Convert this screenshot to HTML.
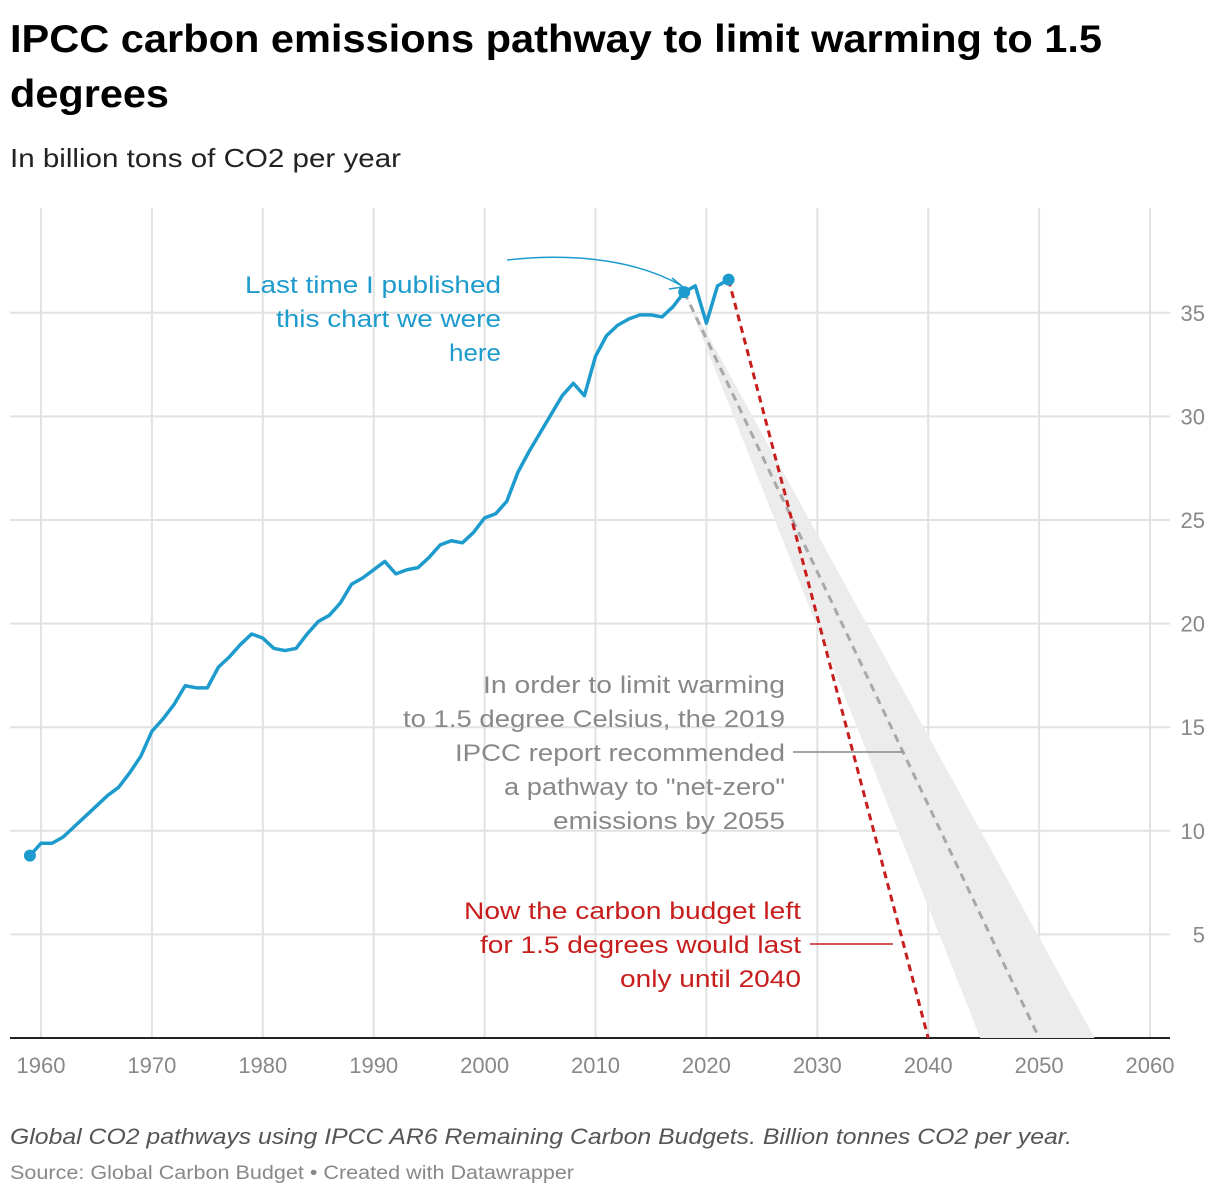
<!DOCTYPE html>
<html><head><meta charset="utf-8"><style>
body{margin:0;background:#fff;width:1220px;height:1196px;overflow:hidden;font-family:"Liberation Sans",Arial,sans-serif}
</style></head><body>
<svg width="1220" height="1196" xmlns="http://www.w3.org/2000/svg">
<text x="10" y="52" font-size="39" font-weight="bold" fill="#000" textLength="1092" lengthAdjust="spacingAndGlyphs">IPCC carbon emissions pathway to limit warming to 1.5</text>
<text x="10" y="107" font-size="39" font-weight="bold" fill="#000" textLength="159" lengthAdjust="spacingAndGlyphs">degrees</text>
<text x="10" y="167" font-size="26" fill="#222" textLength="391" lengthAdjust="spacingAndGlyphs">In billion tons of CO2 per year</text>
<g id="grid"></g>
<g id="marks"></g>
<g id="ann"></g>
<text x="10" y="1144" font-size="22" font-style="italic" fill="#555" textLength="1062" lengthAdjust="spacingAndGlyphs">Global CO2 pathways using IPCC AR6 Remaining Carbon Budgets. Billion tonnes CO2 per year.</text>
<text x="10" y="1179" font-size="19" fill="#888" textLength="564" lengthAdjust="spacingAndGlyphs">Source: Global Carbon Budget • Created with Datawrapper</text>
</svg>
<script>
const years=[1959,1960,1961,1962,1963,1964,1965,1966,1967,1968,1969,1970,1971,1972,1973,1974,1975,1976,1977,1978,1979,1980,1981,1982,1983,1984,1985,1986,1987,1988,1989,1990,1991,1992,1993,1994,1995,1996,1997,1998,1999,2000,2001,2002,2003,2004,2005,2006,2007,2008,2009,2010,2011,2012,2013,2014,2015,2016,2017,2018,2019,2020,2021,2022];
const emissions=[8.8,9.4,9.4,9.7,10.2,10.7,11.2,11.7,12.1,12.8,13.6,14.8,15.4,16.1,17.0,16.9,16.9,17.9,18.4,19.0,19.5,19.3,18.8,18.7,18.8,19.5,20.1,20.4,21.0,21.9,22.2,22.6,23.0,22.4,22.6,22.7,23.2,23.8,24.0,23.9,24.4,25.1,25.3,25.9,27.3,28.3,29.2,30.1,31.0,31.6,31.0,32.9,33.9,34.4,34.7,34.9,34.9,34.8,35.3,36.0,36.3,34.5,36.3,36.6];
const xTicks=[1960,1970,1980,1990,2000,2010,2020,2030,2040,2050,2060];
const yTicks=[5,10,15,20,25,30,35];
const redPath=[[2022,36.6],[2040,0]];
const grayPath=[[2018,36.0],[2050,0]];
const band=[[2018,36.0],[2044.7,0],[2055,0]];
const X=y=>41+(y-1960)*11.09;
const Y=v=>1038-v*20.72;
const NS="http://www.w3.org/2000/svg";
function mk(p,tag,attrs,txt){const e=document.createElementNS(NS,tag);for(const k in attrs)e.setAttribute(k,attrs[k]);if(txt!==undefined)e.textContent=txt;document.getElementById(p).appendChild(e);return e;}
xTicks.forEach(t=>{
 const l=mk('grid','line',{x1:X(t),x2:X(t),y1:208,y2:1038,stroke:'#e2e2e2','stroke-width':2});
 
 
 const tx=mk('grid','text',{x:X(t),y:1073,'font-size':22,fill:'#888','text-anchor':'middle'},t);
 
 
});
yTicks.forEach(t=>{
 const l=mk('grid','line',{x1:10,x2:1170,y1:Y(t),y2:Y(t),stroke:'#e2e2e2','stroke-width':2});
 
 
 const tx=mk('grid','text',{x:1205,y:Y(t)+8,'font-size':22,fill:'#888','text-anchor':'end'},t);
 
 
});
const ax=mk('grid','line',{x1:10,x2:1170,y1:Y(0),y2:Y(0),stroke:'#222','stroke-width':2});


const bp=mk('marks','polygon',{points:band.map(p=>X(p[0])+','+Y(p[1])).join(' '),fill:'#ececec'});


const gl=mk('marks','line',{x1:X(grayPath[0][0]),y1:Y(grayPath[0][1]),x2:X(grayPath[1][0]),y2:Y(grayPath[1][1]),stroke:'#a8a8a8','stroke-width':3,'stroke-dasharray':'8,6'});


const rl=mk('marks','line',{x1:X(redPath[0][0]),y1:Y(redPath[0][1]),x2:X(redPath[1][0]),y2:Y(redPath[1][1]),stroke:'#c71e1d','stroke-width':3,'stroke-dasharray':'7,5'});


const line=mk('marks','polyline',{points:years.map((y,i)=>X(y)+','+Y(emissions[i])).join(' '),fill:'none',stroke:'#1d9bcd','stroke-width':3.5,'stroke-linejoin':'round'});


[0,years.indexOf(2018),years.length-1].forEach(i=>{
 const c=mk('marks','circle',{cx:X(years[i]),cy:Y(emissions[i]),r:6,fill:'#1d9bcd'});
 
 
});
function lines(arr,widths,x,y0,col,name){arr.forEach((s,i)=>{const t=mk('ann','text',{x:x,y:y0+i*34,'font-size':24,fill:col,'text-anchor':'end',textLength:widths[i],lengthAdjust:'spacingAndGlyphs'},s);
 
 });}
lines(["Last time I published","this chart we were","here"],[256,225,52],501,293,'#1d9bcd','blue-annotation');
lines(["In order to limit warming","to 1.5 degree Celsius, the 2019","IPCC report recommended","a pathway to \"net-zero\"","emissions by 2055"],[302,382,330,281,232],785,693,'#888','gray-annotation');
lines(["Now the carbon budget left","for 1.5 degrees would last","only until 2040"],[337,321,181],801,919,'#c71e1d','red-annotation');
const arr=mk('ann','path',{d:'M507,260 C580,252 640,262 682,286',fill:'none',stroke:'#1d9bcd','stroke-width':1.5});


const ah=mk('ann','path',{d:'M672,278 L683,287 L669,289',fill:'none',stroke:'#1d9bcd','stroke-width':1.5});


const l1=mk('ann','line',{x1:793,y1:752,x2:903,y2:752,stroke:'#888','stroke-width':1.5});


const l2=mk('ann','line',{x1:810,y1:944,x2:893,y2:944,stroke:'#c71e1d','stroke-width':1.5});


</script>
</body></html>
